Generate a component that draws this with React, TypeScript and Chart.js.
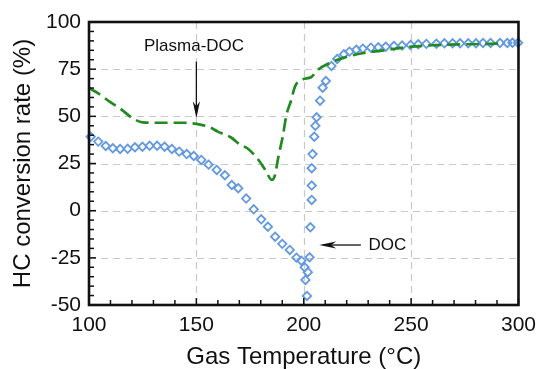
import React, { useEffect, useRef } from "react";
import { Chart, registerables } from "chart.js";

Chart.register(...registerables);

// ---- Data ----
const DOC_T = [
  100.8, 104.3, 107.8, 111.1, 114.5, 118, 121.4, 124.9, 128.2, 131.7, 135.2, 138.6, 142, 145.5,
  148.8, 152.3, 155.7, 159.5, 163.3, 166.5, 169.5, 173.2, 176.7, 180.2, 183.3, 186.7, 190, 193.5,
  196.6, 198.9, 200.4, 201.9, 200.8, 201.5, 202.7, 203.1, 203.7, 203.7, 203.7, 204.1, 204.9,
  205.4, 206, 207.6, 208.8, 210.3, 212.9, 215.6, 218.7, 221.3, 224.5, 227.5, 231.3, 234.7,
  238.2, 242, 245.8, 249.7, 253.3, 257.1, 261.8, 265.5, 269.3, 272.8, 276.6, 280.2, 283.5,
  287, 291.4, 294.8, 297.2, 299.8,
];
const DOC_V = [
  39.2, 36.6, 34.3, 33.1, 32.7, 32.8, 33.6, 33.9, 34.4, 34.4, 33.9, 32.7, 31.3, 30.0,
  29.0, 26.9, 24.4, 21.6, 18.8, 13.6, 11.9, 6.4, 0.7, -4.6, -8.5, -13.8, -17.6, -20.8,
  -24.9, -26.5, -30, -32.6, -36.7, -45.2, -24.7, -8.8, 5.7, 13.3, 22.5, 30.0, 39.2,
  45.0, 49.5, 58.3, 65.2, 68.7, 76.7, 80.4, 82.9, 84.3, 85.3, 85.9, 86.4, 86.6,
  86.9, 87.3, 87.5, 87.8, 88.2, 88.4, 88.5, 88.7, 88.7, 88.7, 88.7, 88.7, 88.9,
  88.9, 88.9, 88.9, 89, 89,
];

const PDOC_T = [
  100, 104.3, 109.6, 115, 120.3, 124.9, 130.2, 137.8, 143.9, 150, 156.2, 160, 166, 170.6,
  173.7, 178.3, 182.1, 185.1, 186.6, 188.2, 190.2, 192, 194, 196, 199.6, 203.4, 206.5,
  211.8, 218.7, 224.8, 232.4, 236.2, 250, 261, 275, 291,
];
const PDOC_V = [
  65, 62.2, 57.8, 53.7, 49, 46.8, 46.6, 46.6, 46.6, 46, 44.2, 41.9, 38.9, 34.8,
  33.1, 27.8, 21.6, 16.3, 18.9, 28.6, 39.2, 51, 58, 66, 69.6, 70.7, 74.6,
  78.1, 81.1, 82.9, 84.3, 84.8, 86.9, 87.7, 88.2, 88.5,
];

const X_TICKS = [100, 150, 200, 250, 300];
const Y_TICKS = [-50, -25, 0, 25, 50, 75, 100];
const X_MINOR_STEP = 10;
const Y_MINOR_STEP = 5;

const X_TITLE = "Gas Temperature (°C)";
const Y_TITLE = "HC conversion rate (%)";

// annotations (data coordinates)
const PDOC_LABEL = { text: "Plasma-DOC", x: 148.9, y: 87.3 };
const PDOC_ARROW = { x1: 150, y1: 79, x2: 150, y2: 49 };
const DOC_LABEL = { text: "DOC", x: 230.1, y: -18.5 };
const DOC_ARROW = { x1: 226.6, y1: -18.2, x2: 207.2, y2: -18.2 };

const FONT = "'Liberation Sans', Arial, Helvetica, sans-serif";
const GREEN = "#218a21";
const BLUE = "#6399e0";

function arrowHead(ctx: CanvasRenderingContext2D, tx: number, ty: number, ang: number) {
  const len = 17;
  const hw = 3.6;
  const notch = 12;
  const c = Math.cos(ang);
  const s = Math.sin(ang);
  const bx = tx - c * len;
  const by = ty - s * len;
  const nx = tx - c * notch;
  const ny = ty - s * notch;
  ctx.beginPath();
  ctx.moveTo(tx, ty);
  ctx.lineTo(bx - s * hw, by + c * hw);
  ctx.lineTo(nx, ny);
  ctx.lineTo(bx + s * hw, by - c * hw);
  ctx.closePath();
  ctx.fill();
}

const framePlugin = {
  id: "framePlugin",
  beforeDatasetsDraw(chart: any) {
    const { ctx, chartArea: a, scales } = chart;
    const xs = scales.x;
    const ys = scales.y;
    ctx.save();
    ctx.strokeStyle = "#c8c8c8";
    ctx.lineWidth = 1.2;
    ctx.setLineDash([7, 5]);
    for (const t of X_TICKS) {
      if (t === xs.min || t === xs.max) continue;
      const px = Math.round(xs.getPixelForValue(t)) + 0.5;
      ctx.beginPath();
      ctx.moveTo(px, a.top);
      ctx.lineTo(px, a.bottom);
      ctx.stroke();
    }
    for (const t of Y_TICKS) {
      if (t === ys.min || t === ys.max) continue;
      const py = Math.round(ys.getPixelForValue(t)) + 0.5;
      ctx.beginPath();
      ctx.moveTo(a.left, py);
      ctx.lineTo(a.right, py);
      ctx.stroke();
    }
    ctx.restore();
  },
  afterDatasetsDraw(chart: any) {
    const { ctx, chartArea: a, scales } = chart;
    const xs = scales.x;
    const ys = scales.y;
    ctx.save();
    ctx.strokeStyle = "#111";
    ctx.lineWidth = 1.5;
    for (let t = xs.min; t <= xs.max + 1e-6; t += X_MINOR_STEP) {
      const major = X_TICKS.includes(t);
      const px = xs.getPixelForValue(t);
      ctx.beginPath();
      ctx.moveTo(px, a.bottom);
      ctx.lineTo(px, a.bottom - (major ? 7 : 5));
      ctx.stroke();
    }
    for (let t = ys.min; t <= ys.max + 1e-6; t += Y_MINOR_STEP) {
      const major = Y_TICKS.includes(t);
      const py = ys.getPixelForValue(t);
      ctx.beginPath();
      ctx.moveTo(a.left, py);
      ctx.lineTo(a.left + (major ? 7 : 5), py);
      ctx.stroke();
    }
    ctx.lineWidth = 2.6;
    ctx.strokeStyle = "#111";
    ctx.strokeRect(a.left, a.top, a.right - a.left, a.bottom - a.top);

    ctx.fillStyle = "#111";
    ctx.strokeStyle = "#111";
    ctx.lineWidth = 1.3;
    ctx.font = `17px ${FONT}`;
    ctx.textBaseline = "middle";
    ctx.textAlign = "center";
    ctx.fillText(PDOC_LABEL.text, xs.getPixelForValue(PDOC_LABEL.x), ys.getPixelForValue(PDOC_LABEL.y));
    ctx.textAlign = "left";
    ctx.fillText(DOC_LABEL.text, xs.getPixelForValue(DOC_LABEL.x), ys.getPixelForValue(DOC_LABEL.y));

    for (const ar of [PDOC_ARROW, DOC_ARROW]) {
      const x1 = xs.getPixelForValue(ar.x1);
      const y1 = ys.getPixelForValue(ar.y1);
      const x2 = xs.getPixelForValue(ar.x2);
      const y2 = ys.getPixelForValue(ar.y2);
      const ang = Math.atan2(y2 - y1, x2 - x1);
      ctx.beginPath();
      ctx.moveTo(x1, y1);
      ctx.lineTo(x2 - Math.cos(ang) * 10, y2 - Math.sin(ang) * 10);
      ctx.stroke();
      arrowHead(ctx, x2, y2, ang);
    }
    ctx.restore();
  },
};

export default function App() {
  const ref = useRef<HTMLCanvasElement | null>(null);
  useEffect(() => {
    if (!ref.current) return;
    const tickFont = { family: FONT, size: 21 };
    const titleFont = { family: FONT, size: 24, lineHeight: 1 };
    const chart = new Chart(ref.current, {
      type: "scatter",
      data: {
        datasets: [
          {
            label: "Plasma-DOC",
            data: PDOC_T.map((t, i) => ({ x: t, y: PDOC_V[i] })),
            showLine: true,
            borderColor: GREEN,
            borderWidth: 2.7,
            borderDash: [13, 6],
            pointRadius: 0,
            cubicInterpolationMode: "monotone",
            fill: false,
          },
          {
            label: "DOC",
            data: DOC_T.map((t, i) => ({ x: t, y: DOC_V[i] })),
            showLine: false,
            pointStyle: "rectRot",
            pointRadius: 4.2,
            pointBorderWidth: 1.8,
            pointBorderColor: BLUE,
            pointBackgroundColor: "rgba(255,255,255,0)",
            borderColor: BLUE,
            clip: false,
          },
        ],
      } as any,
      options: {
        animation: false,
        responsive: false,
        devicePixelRatio: 1,
        layout: { padding: { top: 22, right: 18, left: 0, bottom: 0 } },
        plugins: { legend: { display: false }, tooltip: { enabled: false } },
        scales: {
          x: {
            type: "linear",
            min: 100,
            max: 300,
            afterBuildTicks: (s: any) => {
              s.ticks = X_TICKS.map((v) => ({ value: v }));
            },
            afterFit: (s: any) => {
              s.height = 64;
            },
            grid: { display: false, drawTicks: false },
            border: { display: false },
            ticks: { font: tickFont, color: "#111", padding: 8, maxRotation: 0, autoSkip: false },
            title: { display: true, text: X_TITLE, font: titleFont, color: "#111", padding: { top: 0, bottom: 0 } },
          },
          y: {
            type: "linear",
            min: -50,
            max: 100,
            afterBuildTicks: (s: any) => {
              s.ticks = Y_TICKS.map((v) => ({ value: v }));
            },
            afterFit: (s: any) => {
              s.width = 89;
            },
            grid: { display: false, drawTicks: false },
            border: { display: false },
            ticks: { font: tickFont, color: "#111", padding: 8, autoSkip: false },
            title: { display: true, text: Y_TITLE, font: titleFont, color: "#111", padding: { top: 11, bottom: 0 } },
          },
        },
      } as any,
      plugins: [framePlugin],
    });
    return () => chart.destroy();
  }, []);
  return (
    <div style={{ position: "absolute", left: 0, top: 0, width: 544, height: 369, background: "#fff" }}>
      <canvas ref={ref} width={544} height={369} style={{ display: "block" }} />
    </div>
  );
}
